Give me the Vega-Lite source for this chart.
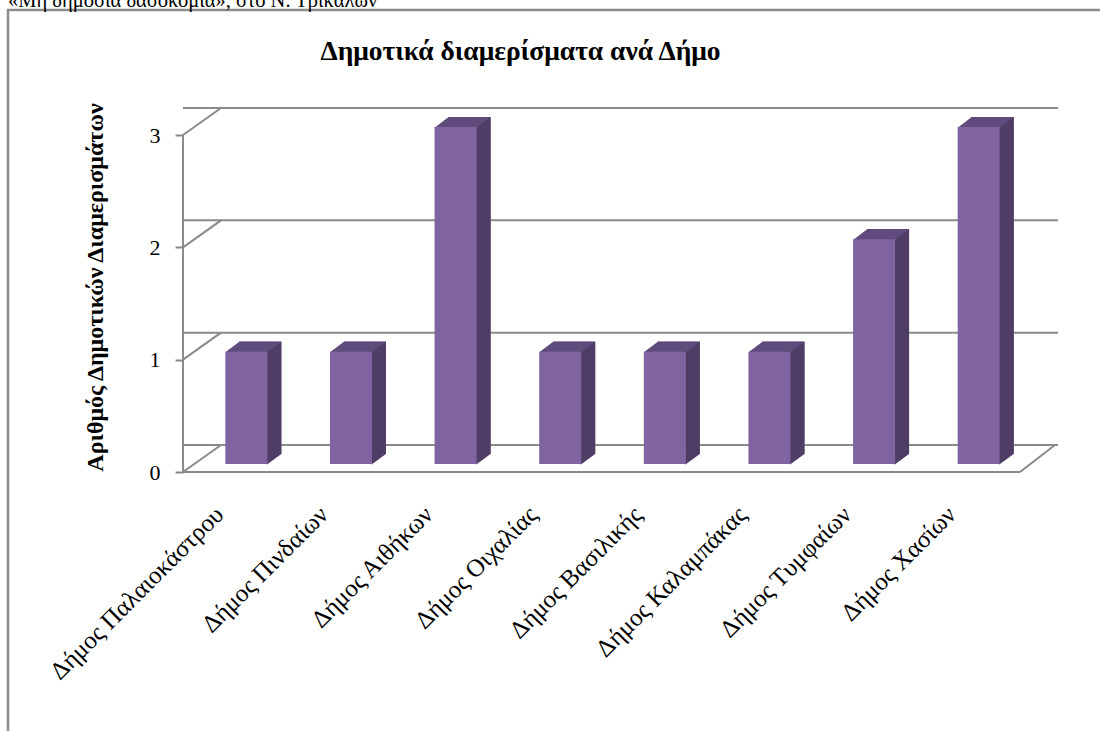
{
  "$schema": "https://vega.github.io/schema/vega-lite/v6.json",
  "width": 837,
  "height": 337,
  "autosize": "none",
  "padding": {"left": 183, "top": 127, "right": 80, "bottom": 267},
  "background": "white",
  "config": {
    "font": "Liberation Serif",
    "view": {"stroke": null},
    "axisX": {"grid": false, "domain": false, "ticks": false},
    "axisY": {"grid": false, "domain": false}
  },
  "title": {"text": "Δημοτικά διαμερίσματα ανά Δήμο", "fontSize": 27.5, "fontWeight": "bold", "font": "Liberation Serif", "color": "black", "anchor": "middle", "frame": "group", "dx": -81, "offset": -74},
  "datasets": {
    "bars": [
      {"dimos": "Δήμος Παλαιοκάστρου", "count": 1},
      {"dimos": "Δήμος Πινδαίων", "count": 1},
      {"dimos": "Δήμος Αιθήκων", "count": 3},
      {"dimos": "Δήμος Οιχαλίας", "count": 1},
      {"dimos": "Δήμος Βασιλικής", "count": 1},
      {"dimos": "Δήμος Καλαμπάκας", "count": 1},
      {"dimos": "Δήμος Τυμφαίων", "count": 2},
      {"dimos": "Δήμος Χασίων", "count": 3}
    ],
    "ticks": [{"v": 0}, {"v": 1}, {"v": 2}, {"v": 3}],
    "one": [{"t": "«Μη δημόσια δασοκομία», στο Ν. Τρικάλων"}]
  },
  "layer": [
    {
      "data": {"name": "bars"},
      "mark": {"type": "bar", "width": 42, "color": "#4F3D66", "xOffset": 25, "yOffset": -10, "y2Offset": -10},
      "encoding": {
        "x": {"field": "dimos", "type": "nominal", "sort": null, "scale": {"paddingInner": 0, "paddingOuter": 0}, "title": null,
          "axis": {"domain": false, "ticks": false, "grid": false, "labelAngle": -45, "labelAlign": "right", "labelBaseline": "middle", "labelFontSize": 25, "labelFont": "Liberation Serif", "labelPadding": 46, "labelOffset": -16, "labelColor": "black", "labelLimit": 0}},
        "y": {"field": "count", "type": "quantitative", "scale": {"domain": [0, 3]}, "title": "Αριθμός Δημοτικών Διαμερισμάτων",
          "axis": {"values": [0, 1, 2, 3], "format": "d", "domain": false, "grid": false, "ticks": true, "tickSize": 8, "tickColor": "#868686", "tickWidth": 2, "tickOffset": 8, "labelFontSize": 22, "labelFont": "Liberation Serif", "labelColor": "black", "labelPadding": 15, "titleFontSize": 24, "titleFont": "Liberation Serif", "titleFontWeight": "bold", "titleColor": "black", "titleX": -88, "titleY": 160, "titleAlign": "center", "titleBaseline": "middle", "titleAngle": -90}}
      }
    },
    {
      "data": {"name": "one"},
      "mark": {"type": "rect", "filled": false, "stroke": "#8c8c8c", "strokeWidth": 2.5},
      "encoding": {"x": {"value": -175}, "x2": {"value": 925}, "y": {"value": -117}, "y2": {"value": 615}}
    },
    {
      "data": {"name": "one"},
      "mark": {"type": "text", "align": "left", "baseline": "alphabetic", "fontSize": 20.5, "font": "Liberation Serif", "color": "black"},
      "encoding": {"text": {"field": "t"}, "x": {"value": -175}, "y": {"value": -120}}
    },
    {
      "data": {"name": "ticks"},
      "mark": {"type": "rule", "color": "#8a8a8a", "strokeWidth": 2, "xOffset": 38, "x2Offset": 35, "yOffset": -19},
      "encoding": {"y": {"field": "v", "type": "quantitative", "title": "Αριθμός Δημοτικών Διαμερισμάτων"}}
    },
    {
      "data": {"name": "ticks"},
      "mark": {"type": "rule", "color": "#8a8a8a", "strokeWidth": 2, "yOffset": 8, "y2Offset": -19},
      "encoding": {
        "x": {"value": 0}, "x2": {"value": 38},
        "y": {"field": "v", "type": "quantitative", "title": "Αριθμός Δημοτικών Διαμερισμάτων"},
        "y2": {"field": "v"}
      }
    },
    {
      "data": {"name": "one"},
      "mark": {"type": "rule", "color": "#8a8a8a", "strokeWidth": 2, "yOffset": 8, "y2Offset": 8},
      "encoding": {"x": {"value": 0}, "y": {"datum": 0, "type": "quantitative", "title": "Αριθμός Δημοτικών Διαμερισμάτων"}, "y2": {"datum": 3}}
    },
    {
      "data": {"name": "one"},
      "mark": {"type": "rule", "color": "#8a8a8a", "strokeWidth": 2, "yOffset": 8},
      "encoding": {"y": {"datum": 0, "type": "quantitative", "title": "Αριθμός Δημοτικών Διαμερισμάτων"}}
    },
    {
      "data": {"name": "one"},
      "mark": {"type": "rule", "color": "#8a8a8a", "strokeWidth": 2, "yOffset": 8, "y2Offset": -19},
      "encoding": {"x": {"value": 837}, "x2": {"value": 872}, "y": {"datum": 0, "type": "quantitative", "title": "Αριθμός Δημοτικών Διαμερισμάτων"}, "y2": {"datum": 0}}
    },
    {
      "data": {"name": "bars"},
      "mark": {"type": "bar", "width": 42, "color": "#4F3D66", "xOffset": 25, "yOffset": -10, "y2Offset": -10},
      "encoding": {
        "x": {"field": "dimos", "type": "nominal", "sort": null, "title": null},
        "y": {"field": "count", "type": "quantitative", "title": "Αριθμός Δημοτικών Διαμερισμάτων"}
      }
    },
    {
      "data": {"name": "bars"},
      "mark": {"type": "point", "shape": "M-1.5,0.05L1.5,0.05L2.5,-0.714L-0.5,-0.714Z", "size": 784, "filled": true, "color": "#5F4B7C", "opacity": 1, "strokeWidth": 0, "xOffset": 11},
      "encoding": {
        "x": {"field": "dimos", "type": "nominal", "sort": null, "title": null},
        "y": {"field": "count", "type": "quantitative", "title": "Αριθμός Δημοτικών Διαμερισμάτων"}
      }
    },
    {
      "data": {"name": "bars"},
      "mark": {"type": "point", "shape": "M1.45,0.05L2.5,-0.72L1.45,-0.72Z", "size": 784, "filled": true, "color": "#4F3D66", "opacity": 1, "strokeWidth": 0, "xOffset": 11},
      "encoding": {
        "x": {"field": "dimos", "type": "nominal", "sort": null, "title": null},
        "y": {"datum": 0, "type": "quantitative", "title": "Αριθμός Δημοτικών Διαμερισμάτων"}
      }
    },
    {
      "data": {"name": "bars"},
      "mark": {"type": "bar", "width": 42, "color": "#8064A2", "xOffset": 11},
      "encoding": {
        "x": {"field": "dimos", "type": "nominal", "sort": null, "title": null},
        "y": {"field": "count", "type": "quantitative", "title": "Αριθμός Δημοτικών Διαμερισμάτων"}
      }
    }
  ]
}
